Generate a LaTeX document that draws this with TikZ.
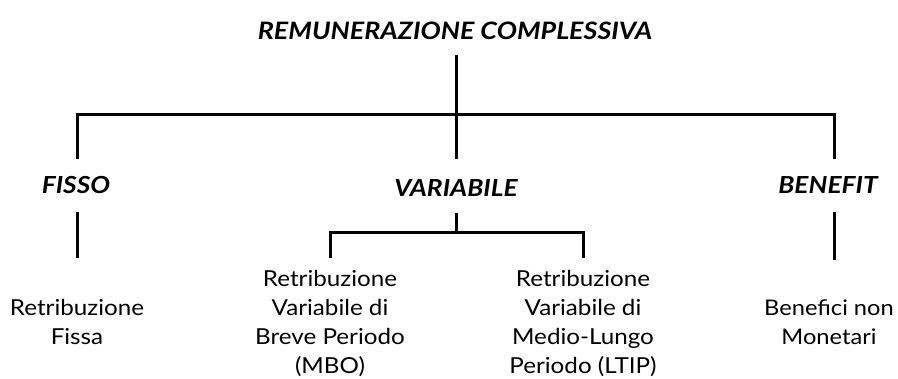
\documentclass[tikz,border=0pt]{standalone}
\usepackage{fontspec}
\setmainfont{Lato}
\newfontfamily\headfont{Lato}[FakeStretch=1.12]
\newfontfamily\leaffont{Lato}[FakeStretch=1.1]
\begin{document}
\begin{tikzpicture}[x=1pt,y=-1pt,
  conn/.style={line width=3pt, draw=black},
  head/.style={inner sep=0pt, font=\headfont\fontsize{23.5}{27}\selectfont\bfseries\itshape},
  leaf/.style={inner sep=0pt, anchor=north, align=center, font=\leaffont\fontsize{22}{29}\selectfont}]
\useasboundingbox[fill=white] (0,0) rectangle (898,379);
\node[head, font=\headfont\fontsize{24}{28}\selectfont\bfseries\itshape] (title) at (455,31) {REMUNERAZIONE COMPLESSIVA};
\node[head] (fisso) at (76,185.5) {FISSO};
\node[head] (variabile) at (456,188.5) {VARIABILE};
\node[head] (benefit) at (828,185.5) {BENEFIT};
\node[leaf] (rfissa) at (77,299) {Retribuzione\\Fissa};
\node[leaf] (rmbo) at (330,270) {Retribuzione\\Variabile di\\Breve Periodo\\(MBO)};
\node[leaf] (rltip) at (583,270) {Retribuzione\\Variabile di\\Medio-Lungo\\Periodo (LTIP)};
\node[leaf, font=\leaffont\fontsize{21.5}{29}\selectfont] (rben) at (829,299) {Benefici non\\Monetari};
\coordinate (hl) at (77,115);
\coordinate (hr) at (834,115);
\coordinate (vm) at (456,233);
\coordinate (vl) at (330,233);
\coordinate (vr) at (583,233);
\draw[conn, shorten <=15pt, shorten >=21pt] (title.south -| vm) -- (variabile.north);
\draw[conn, shorten <=18pt, shorten >=18pt] (hl |- fisso.north) -- (hl) -- (hr) -- (hr |- benefit.north);
\draw[conn, shorten <=18pt, shorten >=41pt] (hl |- fisso.south) -- (rfissa.north);
\draw[conn, shorten <=18pt, shorten >=39pt] (hr |- benefit.south) -- (hr |- rben.north);
\draw[conn, shorten <=16pt] (variabile.south) -- (vm);
\draw[conn, shorten <=12pt, shorten >=12pt] (rmbo.north) -- (vl) -- (vr) -- (rltip.north);
\end{tikzpicture}
\end{document}
